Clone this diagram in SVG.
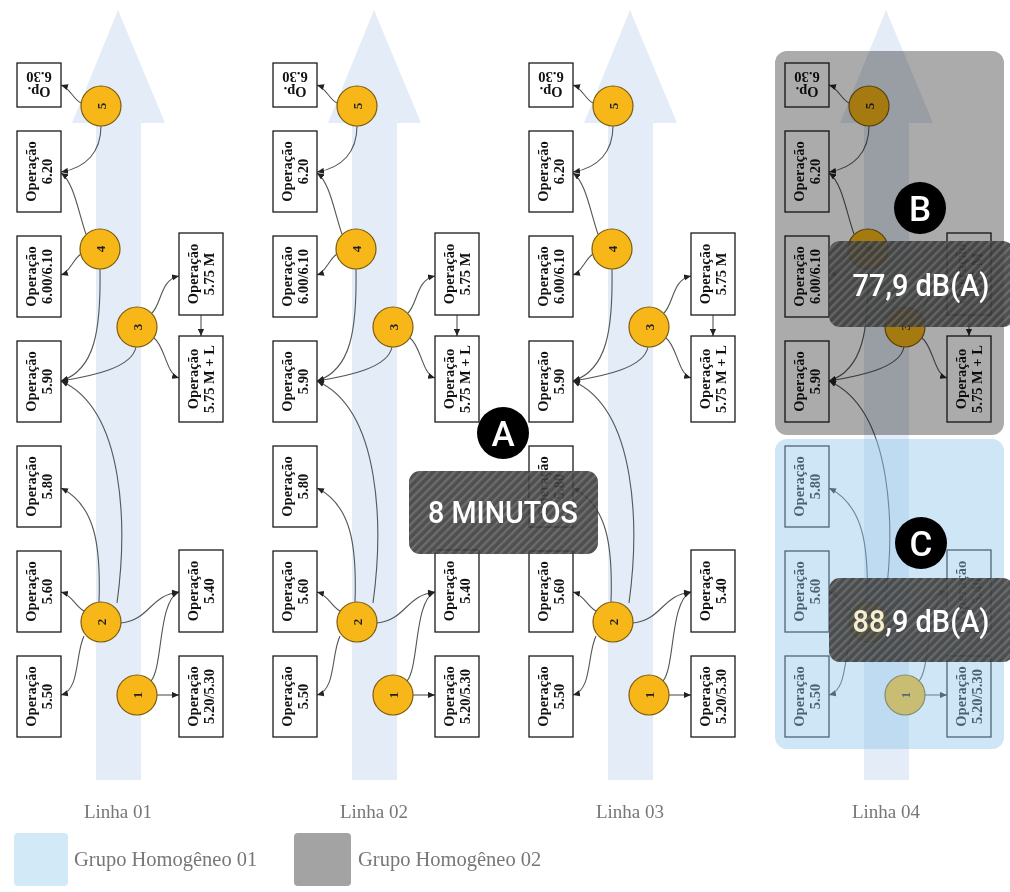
<svg xmlns="http://www.w3.org/2000/svg" xmlns:xlink="http://www.w3.org/1999/xlink" width="1010" height="892" viewBox="0 0 1010 892">
<style>
.flow{fill:#e4ecf7}
.box{fill:#fff;stroke:#1a1a1a;stroke-width:1.3}
.bt{font-family:"Liberation Serif","Times New Roman",serif;font-weight:bold;font-size:14.5px;fill:#111;text-anchor:middle}
.cir{fill:#f7b718;stroke:#7a5d10;stroke-width:1.2}
.ct{font-family:"Liberation Serif","Times New Roman",serif;font-weight:bold;font-size:13px;fill:#222;text-anchor:middle}
.con{fill:none;stroke:#555;stroke-width:1.1;marker-end:url(#ah)}
.lbl{font-family:"Liberation Serif","Times New Roman",serif;font-size:19px;fill:#777;text-anchor:middle}
.leg{font-family:"Liberation Serif","Times New Roman",serif;font-size:20.5px;fill:#777}
.badge{fill:#000}
.bl{font-family:Roboto,"DejaVu Sans",sans-serif;font-weight:500;font-size:35px;fill:#fff;text-anchor:middle}
.big{font-family:Roboto,"DejaVu Sans",sans-serif;font-weight:500;font-size:31px;fill:#fff;text-anchor:middle}
</style>
<defs>
<marker id="ah" viewBox="0 0 8 8" refX="8" refY="4" markerWidth="7" markerHeight="7" markerUnits="userSpaceOnUse" orient="auto"><path d="M0,0.5 L8,4 L0,7.5 z" fill="#222"/></marker>
<pattern id="hatch" width="6" height="6" patternUnits="userSpaceOnUse" patternTransform="rotate(45)"><rect width="6" height="6" fill="#3b3b3b"/><rect width="2.4" height="6" fill="#5c5c5c"/></pattern>
</defs>
<rect width="1010" height="892" fill="#fff"/>

<!-- flow arrows -->
<g id="flow-arrows">
<path class="flow" d="M118,10 L165,123 L141,123 L141,780 L96,780 L96,123 L72,123 Z"/>
<path class="flow" transform="translate(256,0)" d="M118,10 L165,123 L141,123 L141,780 L96,780 L96,123 L72,123 Z"/>
<path class="flow" transform="translate(512,0)" d="M118,10 L165,123 L141,123 L141,780 L96,780 L96,123 L72,123 Z"/>
<path class="flow" transform="translate(768,0)" d="M118,10 L165,123 L141,123 L141,780 L96,780 L96,123 L72,123 Z"/>
</g>

<!-- LINHA 01 -->
<g id="linha01">
<g id="l1-connectors">
<path class="con" d="M81,103 C73,99 70,88 61,85"/>
<path class="con" d="M101,126 C101,152 86,168 61,172"/>
<path class="con" d="M86,234 C79,215 74,182 61,173"/>
<path class="con" d="M81,254 C73,259 70,272 61,275"/>
<path class="con" d="M100,269 C101,330 95,370 61,381"/>
<path class="con" d="M136,347 C132,368 92,376 61,381"/>
<path class="con" d="M152,313 C162,303 160,280 179,276"/>
<path class="con" d="M154,338 C165,346 166,374 179,378"/>
<path class="con" d="M201,315 L201,336"/>
<path class="con" d="M117,603 C127,530 126,410 61,381"/>
<path class="con" d="M99,602 C101,545 95,505 61,488"/>
<path class="con" d="M84,611 C75,606 72,595 61,592"/>
<path class="con" d="M84,636 C75,655 80,690 61,695"/>
<path class="con" d="M121,623 C150,620 150,595 179,592"/>
<path class="con" d="M151,681 C163,668 158,600 179,592"/>
<path class="con" d="M157,695 L179,695"/>
</g>
<g id="l1-op630"><rect class="box" x="17" y="63" width="44" height="44"/><text class="bt" transform="translate(39,85) rotate(180)"><tspan x="0" y="-2">Op.</tspan><tspan x="0" y="13">6.30</tspan></text></g>
<g id="l1-op620"><rect class="box" x="17" y="131" width="44" height="81"/><text class="bt" transform="translate(39,171.5) rotate(-90)"><tspan x="0" y="-3">Operação</tspan><tspan x="0" y="13">6.20</tspan></text></g>
<g id="l1-op600"><rect class="box" x="17" y="236" width="44" height="81"/><text class="bt" transform="translate(39,276.5) rotate(-90)"><tspan x="0" y="-3">Operação</tspan><tspan x="0" y="13">6.00/6.10</tspan></text></g>
<g id="l1-op590"><rect class="box" x="17" y="341" width="44" height="81"/><text class="bt" transform="translate(39,381.5) rotate(-90)"><tspan x="0" y="-3">Operação</tspan><tspan x="0" y="13">5.90</tspan></text></g>
<g id="l1-op580"><rect class="box" x="17" y="446" width="44" height="81"/><text class="bt" transform="translate(39,486.5) rotate(-90)"><tspan x="0" y="-3">Operação</tspan><tspan x="0" y="13">5.80</tspan></text></g>
<g id="l1-op560"><rect class="box" x="17" y="551" width="44" height="81"/><text class="bt" transform="translate(39,591.5) rotate(-90)"><tspan x="0" y="-3">Operação</tspan><tspan x="0" y="13">5.60</tspan></text></g>
<g id="l1-op550"><rect class="box" x="17" y="656" width="44" height="81"/><text class="bt" transform="translate(39,696.5) rotate(-90)"><tspan x="0" y="-3">Operação</tspan><tspan x="0" y="13">5.50</tspan></text></g>
<g id="l1-op575m"><rect class="box" x="179" y="233" width="44" height="82"/><text class="bt" transform="translate(201,274) rotate(-90)"><tspan x="0" y="-3">Operação</tspan><tspan x="0" y="13">5.75 M</tspan></text></g>
<g id="l1-op575ml"><rect class="box" x="179" y="336" width="44" height="86"/><text class="bt" transform="translate(201,379) rotate(-90)"><tspan x="0" y="-3">Operação</tspan><tspan x="0" y="13">5.75 M + L</tspan></text></g>
<g id="l1-op540"><rect class="box" x="179" y="550" width="44" height="82"/><text class="bt" transform="translate(201,591) rotate(-90)"><tspan x="0" y="-3">Operação</tspan><tspan x="0" y="13">5.40</tspan></text></g>
<g id="l1-op520"><rect class="box" x="179" y="656" width="44" height="81"/><text class="bt" transform="translate(201,696.5) rotate(-90)"><tspan x="0" y="-3">Operação</tspan><tspan x="0" y="13">5.20/5.30</tspan></text></g>
<g id="l1-n5"><circle class="cir" cx="101" cy="106" r="20"/><text class="ct" transform="translate(101,106) rotate(-90)" y="4.5">5</text></g>
<g id="l1-n4"><circle class="cir" cx="100" cy="249" r="20"/><text class="ct" transform="translate(100,249) rotate(-90)" y="4.5">4</text></g>
<g id="l1-n3"><circle class="cir" cx="137" cy="327" r="20"/><text class="ct" transform="translate(137,327) rotate(-90)" y="4.5">3</text></g>
<g id="l1-n2"><circle class="cir" cx="101" cy="622" r="20"/><text class="ct" transform="translate(101,622) rotate(-90)" y="4.5">2</text></g>
<g id="l1-n1"><circle class="cir" cx="137" cy="695" r="20"/><text class="ct" transform="translate(137,695) rotate(-90)" y="4.5">1</text></g>
</g>

<!-- LINHA 02 -->
<g id="linha02" transform="translate(256,0)">
<g id="l2-connectors">
<path class="con" d="M81,103 C73,99 70,88 61,85"/>
<path class="con" d="M101,126 C101,152 86,168 61,172"/>
<path class="con" d="M86,234 C79,215 74,182 61,173"/>
<path class="con" d="M81,254 C73,259 70,272 61,275"/>
<path class="con" d="M100,269 C101,330 95,370 61,381"/>
<path class="con" d="M136,347 C132,368 92,376 61,381"/>
<path class="con" d="M152,313 C162,303 160,280 179,276"/>
<path class="con" d="M154,338 C165,346 166,374 179,378"/>
<path class="con" d="M201,315 L201,336"/>
<path class="con" d="M117,603 C127,530 126,410 61,381"/>
<path class="con" d="M99,602 C101,545 95,505 61,488"/>
<path class="con" d="M84,611 C75,606 72,595 61,592"/>
<path class="con" d="M84,636 C75,655 80,690 61,695"/>
<path class="con" d="M121,623 C150,620 150,595 179,592"/>
<path class="con" d="M151,681 C163,668 158,600 179,592"/>
<path class="con" d="M157,695 L179,695"/>
</g>
<g id="l2-op630"><rect class="box" x="17" y="63" width="44" height="44"/><text class="bt" transform="translate(39,85) rotate(180)"><tspan x="0" y="-2">Op.</tspan><tspan x="0" y="13">6.30</tspan></text></g>
<g id="l2-op620"><rect class="box" x="17" y="131" width="44" height="81"/><text class="bt" transform="translate(39,171.5) rotate(-90)"><tspan x="0" y="-3">Operação</tspan><tspan x="0" y="13">6.20</tspan></text></g>
<g id="l2-op600"><rect class="box" x="17" y="236" width="44" height="81"/><text class="bt" transform="translate(39,276.5) rotate(-90)"><tspan x="0" y="-3">Operação</tspan><tspan x="0" y="13">6.00/6.10</tspan></text></g>
<g id="l2-op590"><rect class="box" x="17" y="341" width="44" height="81"/><text class="bt" transform="translate(39,381.5) rotate(-90)"><tspan x="0" y="-3">Operação</tspan><tspan x="0" y="13">5.90</tspan></text></g>
<g id="l2-op580"><rect class="box" x="17" y="446" width="44" height="81"/><text class="bt" transform="translate(39,486.5) rotate(-90)"><tspan x="0" y="-3">Operação</tspan><tspan x="0" y="13">5.80</tspan></text></g>
<g id="l2-op560"><rect class="box" x="17" y="551" width="44" height="81"/><text class="bt" transform="translate(39,591.5) rotate(-90)"><tspan x="0" y="-3">Operação</tspan><tspan x="0" y="13">5.60</tspan></text></g>
<g id="l2-op550"><rect class="box" x="17" y="656" width="44" height="81"/><text class="bt" transform="translate(39,696.5) rotate(-90)"><tspan x="0" y="-3">Operação</tspan><tspan x="0" y="13">5.50</tspan></text></g>
<g id="l2-op575m"><rect class="box" x="179" y="233" width="44" height="82"/><text class="bt" transform="translate(201,274) rotate(-90)"><tspan x="0" y="-3">Operação</tspan><tspan x="0" y="13">5.75 M</tspan></text></g>
<g id="l2-op575ml"><rect class="box" x="179" y="336" width="44" height="86"/><text class="bt" transform="translate(201,379) rotate(-90)"><tspan x="0" y="-3">Operação</tspan><tspan x="0" y="13">5.75 M + L</tspan></text></g>
<g id="l2-op540"><rect class="box" x="179" y="550" width="44" height="82"/><text class="bt" transform="translate(201,591) rotate(-90)"><tspan x="0" y="-3">Operação</tspan><tspan x="0" y="13">5.40</tspan></text></g>
<g id="l2-op520"><rect class="box" x="179" y="656" width="44" height="81"/><text class="bt" transform="translate(201,696.5) rotate(-90)"><tspan x="0" y="-3">Operação</tspan><tspan x="0" y="13">5.20/5.30</tspan></text></g>
<g id="l2-n5"><circle class="cir" cx="101" cy="106" r="20"/><text class="ct" transform="translate(101,106) rotate(-90)" y="4.5">5</text></g>
<g id="l2-n4"><circle class="cir" cx="100" cy="249" r="20"/><text class="ct" transform="translate(100,249) rotate(-90)" y="4.5">4</text></g>
<g id="l2-n3"><circle class="cir" cx="137" cy="327" r="20"/><text class="ct" transform="translate(137,327) rotate(-90)" y="4.5">3</text></g>
<g id="l2-n2"><circle class="cir" cx="101" cy="622" r="20"/><text class="ct" transform="translate(101,622) rotate(-90)" y="4.5">2</text></g>
<g id="l2-n1"><circle class="cir" cx="137" cy="695" r="20"/><text class="ct" transform="translate(137,695) rotate(-90)" y="4.5">1</text></g>
</g>

<!-- LINHA 03 -->
<g id="linha03" transform="translate(512,0)">
<g id="l3-connectors">
<path class="con" d="M81,103 C73,99 70,88 61,85"/>
<path class="con" d="M101,126 C101,152 86,168 61,172"/>
<path class="con" d="M86,234 C79,215 74,182 61,173"/>
<path class="con" d="M81,254 C73,259 70,272 61,275"/>
<path class="con" d="M100,269 C101,330 95,370 61,381"/>
<path class="con" d="M136,347 C132,368 92,376 61,381"/>
<path class="con" d="M152,313 C162,303 160,280 179,276"/>
<path class="con" d="M154,338 C165,346 166,374 179,378"/>
<path class="con" d="M201,315 L201,336"/>
<path class="con" d="M117,603 C127,530 126,410 61,381"/>
<path class="con" d="M99,602 C101,545 95,505 61,488"/>
<path class="con" d="M84,611 C75,606 72,595 61,592"/>
<path class="con" d="M84,636 C75,655 80,690 61,695"/>
<path class="con" d="M121,623 C150,620 150,595 179,592"/>
<path class="con" d="M151,681 C163,668 158,600 179,592"/>
<path class="con" d="M157,695 L179,695"/>
</g>
<g id="l3-op630"><rect class="box" x="17" y="63" width="44" height="44"/><text class="bt" transform="translate(39,85) rotate(180)"><tspan x="0" y="-2">Op.</tspan><tspan x="0" y="13">6.30</tspan></text></g>
<g id="l3-op620"><rect class="box" x="17" y="131" width="44" height="81"/><text class="bt" transform="translate(39,171.5) rotate(-90)"><tspan x="0" y="-3">Operação</tspan><tspan x="0" y="13">6.20</tspan></text></g>
<g id="l3-op600"><rect class="box" x="17" y="236" width="44" height="81"/><text class="bt" transform="translate(39,276.5) rotate(-90)"><tspan x="0" y="-3">Operação</tspan><tspan x="0" y="13">6.00/6.10</tspan></text></g>
<g id="l3-op590"><rect class="box" x="17" y="341" width="44" height="81"/><text class="bt" transform="translate(39,381.5) rotate(-90)"><tspan x="0" y="-3">Operação</tspan><tspan x="0" y="13">5.90</tspan></text></g>
<g id="l3-op580"><rect class="box" x="17" y="446" width="44" height="81"/><text class="bt" transform="translate(39,486.5) rotate(-90)"><tspan x="0" y="-3">Operação</tspan><tspan x="0" y="13">5.80</tspan></text></g>
<g id="l3-op560"><rect class="box" x="17" y="551" width="44" height="81"/><text class="bt" transform="translate(39,591.5) rotate(-90)"><tspan x="0" y="-3">Operação</tspan><tspan x="0" y="13">5.60</tspan></text></g>
<g id="l3-op550"><rect class="box" x="17" y="656" width="44" height="81"/><text class="bt" transform="translate(39,696.5) rotate(-90)"><tspan x="0" y="-3">Operação</tspan><tspan x="0" y="13">5.50</tspan></text></g>
<g id="l3-op575m"><rect class="box" x="179" y="233" width="44" height="82"/><text class="bt" transform="translate(201,274) rotate(-90)"><tspan x="0" y="-3">Operação</tspan><tspan x="0" y="13">5.75 M</tspan></text></g>
<g id="l3-op575ml"><rect class="box" x="179" y="336" width="44" height="86"/><text class="bt" transform="translate(201,379) rotate(-90)"><tspan x="0" y="-3">Operação</tspan><tspan x="0" y="13">5.75 M + L</tspan></text></g>
<g id="l3-op540"><rect class="box" x="179" y="550" width="44" height="82"/><text class="bt" transform="translate(201,591) rotate(-90)"><tspan x="0" y="-3">Operação</tspan><tspan x="0" y="13">5.40</tspan></text></g>
<g id="l3-op520"><rect class="box" x="179" y="656" width="44" height="81"/><text class="bt" transform="translate(201,696.5) rotate(-90)"><tspan x="0" y="-3">Operação</tspan><tspan x="0" y="13">5.20/5.30</tspan></text></g>
<g id="l3-n5"><circle class="cir" cx="101" cy="106" r="20"/><text class="ct" transform="translate(101,106) rotate(-90)" y="4.5">5</text></g>
<g id="l3-n4"><circle class="cir" cx="100" cy="249" r="20"/><text class="ct" transform="translate(100,249) rotate(-90)" y="4.5">4</text></g>
<g id="l3-n3"><circle class="cir" cx="137" cy="327" r="20"/><text class="ct" transform="translate(137,327) rotate(-90)" y="4.5">3</text></g>
<g id="l3-n2"><circle class="cir" cx="101" cy="622" r="20"/><text class="ct" transform="translate(101,622) rotate(-90)" y="4.5">2</text></g>
<g id="l3-n1"><circle class="cir" cx="137" cy="695" r="20"/><text class="ct" transform="translate(137,695) rotate(-90)" y="4.5">1</text></g>
</g>

<!-- LINHA 04 -->
<g id="linha04" transform="translate(768,0)">
<g id="l4-connectors">
<path class="con" d="M81,103 C73,99 70,88 61,85"/>
<path class="con" d="M101,126 C101,152 86,168 61,172"/>
<path class="con" d="M86,234 C79,215 74,182 61,173"/>
<path class="con" d="M81,254 C73,259 70,272 61,275"/>
<path class="con" d="M100,269 C101,330 95,370 61,381"/>
<path class="con" d="M136,347 C132,368 92,376 61,381"/>
<path class="con" d="M152,313 C162,303 160,280 179,276"/>
<path class="con" d="M154,338 C165,346 166,374 179,378"/>
<path class="con" d="M201,315 L201,336"/>
<path class="con" d="M117,603 C127,530 126,410 61,381"/>
<path class="con" d="M99,602 C101,545 95,505 61,488"/>
<path class="con" d="M84,611 C75,606 72,595 61,592"/>
<path class="con" d="M84,636 C75,655 80,690 61,695"/>
<path class="con" d="M121,623 C150,620 150,595 179,592"/>
<path class="con" d="M151,681 C163,668 158,600 179,592"/>
<path class="con" d="M157,695 L179,695"/>
</g>
<g id="l4-op630"><rect class="box" x="17" y="63" width="44" height="44"/><text class="bt" transform="translate(39,85) rotate(180)"><tspan x="0" y="-2">Op.</tspan><tspan x="0" y="13">6.30</tspan></text></g>
<g id="l4-op620"><rect class="box" x="17" y="131" width="44" height="81"/><text class="bt" transform="translate(39,171.5) rotate(-90)"><tspan x="0" y="-3">Operação</tspan><tspan x="0" y="13">6.20</tspan></text></g>
<g id="l4-op600"><rect class="box" x="17" y="236" width="44" height="81"/><text class="bt" transform="translate(39,276.5) rotate(-90)"><tspan x="0" y="-3">Operação</tspan><tspan x="0" y="13">6.00/6.10</tspan></text></g>
<g id="l4-op590"><rect class="box" x="17" y="341" width="44" height="81"/><text class="bt" transform="translate(39,381.5) rotate(-90)"><tspan x="0" y="-3">Operação</tspan><tspan x="0" y="13">5.90</tspan></text></g>
<g id="l4-op580"><rect class="box" x="17" y="446" width="44" height="81"/><text class="bt" transform="translate(39,486.5) rotate(-90)"><tspan x="0" y="-3">Operação</tspan><tspan x="0" y="13">5.80</tspan></text></g>
<g id="l4-op560"><rect class="box" x="17" y="551" width="44" height="81"/><text class="bt" transform="translate(39,591.5) rotate(-90)"><tspan x="0" y="-3">Operação</tspan><tspan x="0" y="13">5.60</tspan></text></g>
<g id="l4-op550"><rect class="box" x="17" y="656" width="44" height="81"/><text class="bt" transform="translate(39,696.5) rotate(-90)"><tspan x="0" y="-3">Operação</tspan><tspan x="0" y="13">5.50</tspan></text></g>
<g id="l4-op575m"><rect class="box" x="179" y="233" width="44" height="82"/><text class="bt" transform="translate(201,274) rotate(-90)"><tspan x="0" y="-3">Operação</tspan><tspan x="0" y="13">5.75 M</tspan></text></g>
<g id="l4-op575ml"><rect class="box" x="179" y="336" width="44" height="86"/><text class="bt" transform="translate(201,379) rotate(-90)"><tspan x="0" y="-3">Operação</tspan><tspan x="0" y="13">5.75 M + L</tspan></text></g>
<g id="l4-op540"><rect class="box" x="179" y="550" width="44" height="82"/><text class="bt" transform="translate(201,591) rotate(-90)"><tspan x="0" y="-3">Operação</tspan><tspan x="0" y="13">5.40</tspan></text></g>
<g id="l4-op520"><rect class="box" x="179" y="656" width="44" height="81"/><text class="bt" transform="translate(201,696.5) rotate(-90)"><tspan x="0" y="-3">Operação</tspan><tspan x="0" y="13">5.20/5.30</tspan></text></g>
<g id="l4-n5"><circle class="cir" cx="101" cy="106" r="20"/><text class="ct" transform="translate(101,106) rotate(-90)" y="4.5">5</text></g>
<g id="l4-n4"><circle class="cir" cx="100" cy="249" r="20"/><text class="ct" transform="translate(100,249) rotate(-90)" y="4.5">4</text></g>
<g id="l4-n3"><circle class="cir" cx="137" cy="327" r="20"/><text class="ct" transform="translate(137,327) rotate(-90)" y="4.5">3</text></g>
<g id="l4-n2"><circle class="cir" cx="101" cy="622" r="20"/><text class="ct" transform="translate(101,622) rotate(-90)" y="4.5">2</text></g>
<g id="l4-n1"><circle class="cir" cx="137" cy="695" r="20"/><text class="ct" transform="translate(137,695) rotate(-90)" y="4.5">1</text></g>
</g>

<!-- group overlays -->
<g id="grupo02-area"><rect x="775" y="51" width="229" height="384" rx="12" fill="#ababab" style="mix-blend-mode:multiply"/></g>
<g id="grupo01-area"><rect x="775" y="439" width="229" height="310" rx="12" fill="#8fc6ea" opacity="0.44"/></g>

<!-- line labels -->
<g id="line-labels">
<text class="lbl" x="118" y="818">Linha 01</text>
<text class="lbl" x="374" y="818">Linha 02</text>
<text class="lbl" x="630" y="818">Linha 03</text>
<text class="lbl" x="886" y="818">Linha 04</text>
</g>

<!-- legend -->
<g id="legend">
<rect x="14" y="833" width="54" height="53" rx="4" fill="#d2e9f7"/>
<text class="leg" x="74" y="866">Grupo Homogêneo 01</text>
<rect x="294" y="833" width="57" height="53" rx="4" fill="#a3a3a3"/>
<text class="leg" x="358" y="866">Grupo Homogêneo 02</text>
</g>

<!-- callouts -->
<g id="callout-a">
<g opacity="0.9"><rect x="409" y="471" width="189" height="83" rx="11" fill="url(#hatch)"/></g>
<text class="big" x="503" y="523" textLength="150" lengthAdjust="spacingAndGlyphs">8 MINUTOS</text>
<circle class="badge" cx="503" cy="433" r="26"/>
<text class="bl" x="503" y="445.5">A</text>
</g>
<g id="callout-b">
<g opacity="0.9"><rect x="829" y="241" width="185" height="86" rx="11" fill="url(#hatch)"/></g>
<text class="big" x="921" y="296" textLength="137" lengthAdjust="spacingAndGlyphs">77,9 dB(A)</text>
<circle class="badge" cx="920" cy="208" r="26"/>
<text class="bl" x="920" y="220.5">B</text>
</g>
<g id="callout-c">
<g opacity="0.9"><rect x="829" y="578" width="185" height="84" rx="11" fill="url(#hatch)"/></g>
<text class="big" x="921" y="632" textLength="137" lengthAdjust="spacingAndGlyphs"><tspan fill="#f6efcf">88</tspan>,9 dB(A)</text>
<circle class="badge" cx="921" cy="543" r="26"/>
<text class="bl" x="921" y="555.5">C</text>
</g>
</svg>
